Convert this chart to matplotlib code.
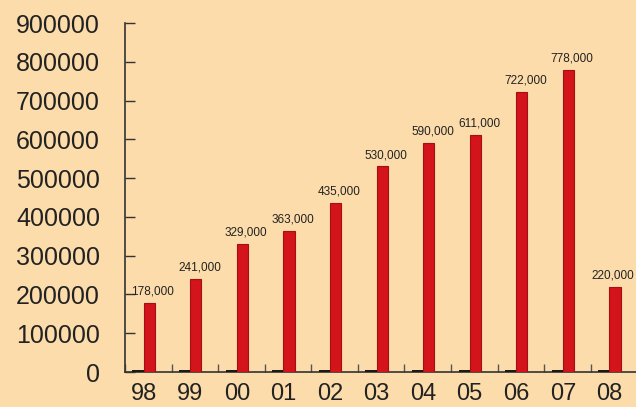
import matplotlib
matplotlib.use("Agg")
import matplotlib.pyplot as plt
import numpy as np

years = ["98", "99", "00", "01", "02", "03", "04", "05", "06", "07", "08"]
values = [178000, 241000, 329000, 363000, 435000, 530000, 590000, 611000, 722000, 778000, 220000]
labels = ["178,000", "241,000", "329,000", "363,000", "435,000", "530,000",
          "590,000", "611,000", "722,000", "778,000", "220,000"]
minor_values = [6000] * 11
yticks = [0, 100000, 200000, 300000, 400000, 500000, 600000, 700000, 800000, 900000]

bg = "#FCDCAA"
fig = plt.figure(figsize=(6.36, 4.07), dpi=100, facecolor=bg)
ax = fig.add_axes([125/636, 35/407, 1 - 125/636, (372-23)/407])
ax.set_facecolor(bg)

x = np.arange(len(years))
w = 0.24
ax.bar(x - 0.12, minor_values, width=w, color="#1a1a1a", zorder=3)
ax.bar(x + 0.12, values, width=w, color="#D3141B", edgecolor="#A50E12", linewidth=0.8, zorder=3)

fam = ["Liberation Sans", "DejaVu Sans"]
offsets = [0.2] * (len(x) - 1) + [0.08]
for xi, v, lab, off in zip(x, values, labels, offsets):
    ax.text(xi + off, v + 14000, lab, ha="center", va="bottom",
            fontsize=8.5, family=fam, color="#222222", zorder=4)

ax.set_xlim(-0.364, 10.57)
ax.set_ylim(0, 900000)
ax.set_yticks(yticks)
ax.set_yticklabels([str(t) for t in yticks], fontsize=18, family=fam, color="#222222")
ax.set_xticks(x)
ax.set_xticklabels(years, fontsize=17, family=fam, color="#222222")
ax.set_xticks(x - 0.4, minor=True)

ax.tick_params(axis="y", direction="in", length=7, width=1, pad=18, colors="#333333", labelcolor="#222222")
ax.tick_params(axis="x", which="major", length=0, pad=8, labelcolor="#222222")
ax.tick_params(axis="x", which="minor", direction="in", length=6, width=1, colors="#555555")

for s in ["top", "right"]:
    ax.spines[s].set_visible(False)
for s in ["left", "bottom"]:
    ax.spines[s].set_color("#333333")
    ax.spines[s].set_linewidth(1.2)

fig.savefig("out.png", dpi=100, facecolor=bg)
